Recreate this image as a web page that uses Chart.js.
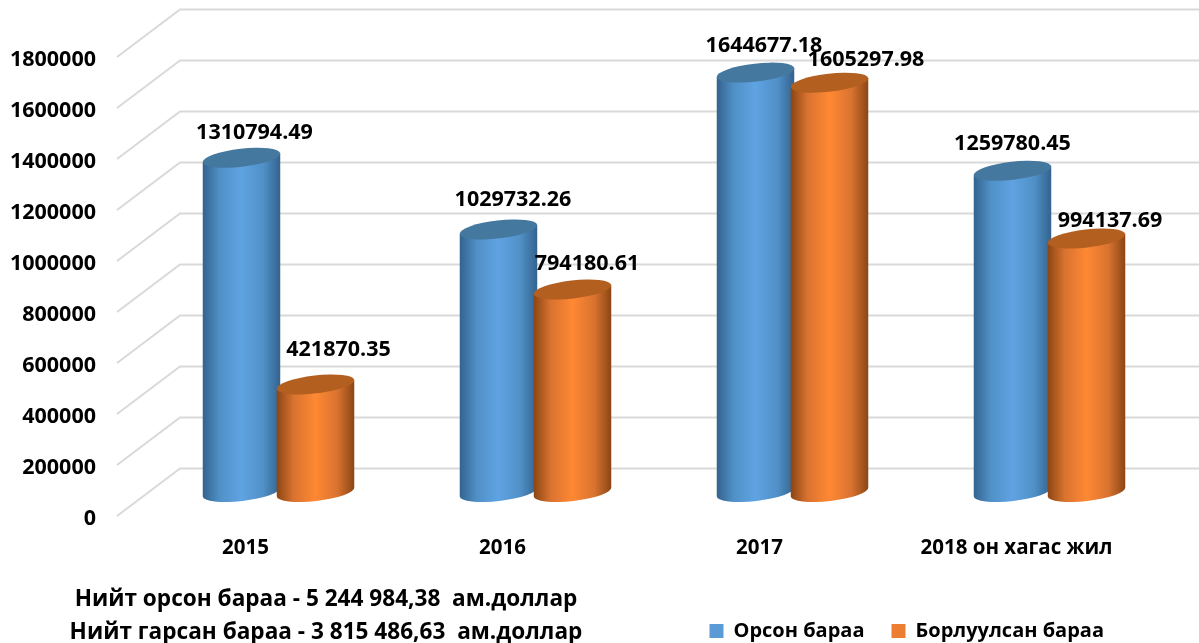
<!DOCTYPE html>
<html lang="mn">
<head>
    <title>Орсон, борлуулсан бараа</title>
    <meta charset="utf-8">
    <script src="https://cdn.jsdelivr.net/npm/chart.js@4"></script>
    <style>
        html, body { margin: 0; background: #fff; overflow: hidden; }
        #wrap { position: relative; width: 1199px; height: 643px; }
        .note {
            position: absolute; left: 0; width: 652px; text-align: center;
            font: bold 22.6px "Open Sans", sans-serif; color: #000; white-space: pre; line-height: 28px;
        }
    </style>
</head>
<body>
    <div id="wrap">
        <canvas id="chart" width="1199" height="643"></canvas>
        <div class="note" style="top: 584px">Нийт орсон бараа - 5 244 984,38  ам.доллар</div>
        <div class="note" style="top: 617px">Нийт гарсан бараа - 3 815 486,63  ам.доллар</div>
    </div>

    <script>
        var categories = ['2015', '2016', '2017', '2018 он хагас жил'];
        var orsonValues = [1310794.49, 1029732.26, 1644677.18, 1259780.45];
        var borluulsanValues = [421870.35, 794180.61, 1605297.98, 994137.69];
        var seriesNames = ['Орсон бараа', 'Борлуулсан бараа'];
        var yMax = 1800000;
        var yStep = 200000;

        var FONT = '"Open Sans", sans-serif';
        // the picture is a fake 3d box: scales sit on the front edge of the floor,
        // the bars stand half way back, the grid lines on the back wall
        var BACK = { x: 63, y: -47.5 };
        var MID = { x: 33, y: -24 };

        var palettes = {
            '#5b9bd5': { edge: '#33628d', side: '#5090c7', mid: '#5fa3e2', top: '#45789f' },
            '#ed7d31': { edge: '#8a4513', side: '#d97330', mid: '#ff8833', top: '#b35f20' }
        };

        function shade(ctx, left, right, p) {
            var g = ctx.createLinearGradient(left, 0, right, 0);
            g.addColorStop(0, p.edge);
            g.addColorStop(0.22, p.side);
            g.addColorStop(0.5, p.mid);
            g.addColorStop(0.78, p.side);
            g.addColorStop(1, p.edge);
            return g;
        }

        // bars are drawn as tilted cylinders, from the geometry the bar scale gave them
        Chart.BarElement.prototype.draw = function (ctx) {
            var p = this.getProps(['x', 'y', 'base', 'width']);
            var pal = palettes[this.options.backgroundColor];
            var cx = p.x + MID.x, top = p.y + MID.y, bottom = p.base + MID.y;
            var a = p.width / 2, b = 9, tilt = -0.115;
            var dx = a * Math.cos(tilt), dy = a * Math.sin(tilt);

            ctx.save();
            ctx.fillStyle = shade(ctx, cx - a, cx + a, pal);
            ctx.beginPath();
            ctx.moveTo(cx + dx, top + dy);
            ctx.lineTo(cx + dx, bottom + dy);
            ctx.ellipse(cx, bottom, a, b, tilt, 0, Math.PI);
            ctx.lineTo(cx - dx, top - dy);
            ctx.closePath();
            ctx.fill();

            ctx.fillStyle = pal.top;
            ctx.beginPath();
            ctx.ellipse(cx, top, a, b, tilt, 0, Math.PI * 2);
            ctx.fill();
            ctx.restore();
        };

        var wallPlugin = {
            id: 'wall',
            beforeDatasetsDraw: function (chart) {
                var ctx = chart.ctx, y = chart.scales.y, left = chart.chartArea.left;
                ctx.save();
                ctx.strokeStyle = '#d9d9d9';
                ctx.lineWidth = 2;
                y.ticks.forEach(function (t, i) {
                    var py = y.getPixelForTick(i);
                    ctx.beginPath();
                    ctx.moveTo(left, py);
                    ctx.lineTo(left + BACK.x, py + BACK.y);
                    ctx.lineTo(chart.width, py + BACK.y);
                    ctx.stroke();
                });
                ctx.restore();
            },
            // Chart.js paints the last dataset first, here the orange bars have to overlap the blue
            beforeDatasetDraw: function () { return false; },
            afterDatasetsDraw: function (chart) {
                chart.data.datasets.forEach(function (ds, d) {
                    chart.getDatasetMeta(d).controller.draw();
                });
            }
        };

        // hand placed in the original, the labels do not follow one rule
        var labelNudge = [
            [[13, -27], [14.5, -32], [8.5, -29], [0, -29]],
            [[23, -37], [14.5, -28], [36.5, -25], [23.5, -20]]
        ];

        var valueLabelPlugin = {
            id: 'valueLabels',
            afterDatasetsDraw: function (chart) {
                var ctx = chart.ctx;
                ctx.save();
                ctx.font = 'bold 21.5px ' + FONT;
                ctx.fillStyle = '#000';
                ctx.textAlign = 'center';
                ctx.textBaseline = 'middle';
                chart.data.datasets.forEach(function (ds, d) {
                    chart.getDatasetMeta(d).data.forEach(function (bar, i) {
                        var n = labelNudge[d][i];
                        ctx.fillText(ds.data[i].toFixed(2), bar.x + MID.x + n[0], bar.y + MID.y + n[1] + 2);
                    });
                });
                ctx.restore();
            }
        };

        var legendPlugin = {
            id: 'legendShift',
            afterLayout: function (chart) {
                chart.legend.left -= 14;
                chart.legend.right -= 14;
                chart.legend.top += 8;
            }
        };

        new Chart(document.getElementById('chart').getContext('2d'), {
            type: 'bar',
            data: {
                labels: categories,
                datasets: [
                    { label: seriesNames[0], data: orsonValues, backgroundColor: '#5b9bd5' },
                    { label: seriesNames[1], data: borluulsanValues, backgroundColor: '#ed7d31' }
                ]
            },
            options: {
                responsive: false,
                animation: false,
                categoryPercentage: 0.576,
                barPercentage: 1.054,
                layout: { padding: { top: 57, right: 54, left: 0, bottom: 0 } },
                plugins: {
                    tooltip: { enabled: false },
                    legend: {
                        position: 'bottom',
                        align: 'end',
                        labels: {
                            boxWidth: 14, boxHeight: 14, padding: 27, color: '#000',
                            font: { family: FONT, size: 20, weight: 'bold' }
                        }
                    }
                },
                scales: {
                    x: {
                        grid: { display: false },
                        border: { display: false },
                        afterFit: function (scale) { scale.height = 70; },
                        ticks: {
                            color: '#000', padding: 12, maxRotation: 0, autoSkip: false,
                            font: { family: FONT, size: 20.5, weight: 'bold' }
                        }
                    },
                    y: {
                        min: 0,
                        max: yMax,
                        grid: { display: false },
                        border: { display: false },
                        afterFit: function (scale) { scale.width = 117; },
                        ticks: {
                            stepSize: yStep, color: '#000', padding: 13, labelOffset: 3,
                            font: { family: FONT, size: 21.5, weight: 'bold' },
                            callback: function (v) { return String(v); }
                        }
                    }
                }
            },
            plugins: [wallPlugin, valueLabelPlugin, legendPlugin]
        });
    </script>
</body>
</html>
